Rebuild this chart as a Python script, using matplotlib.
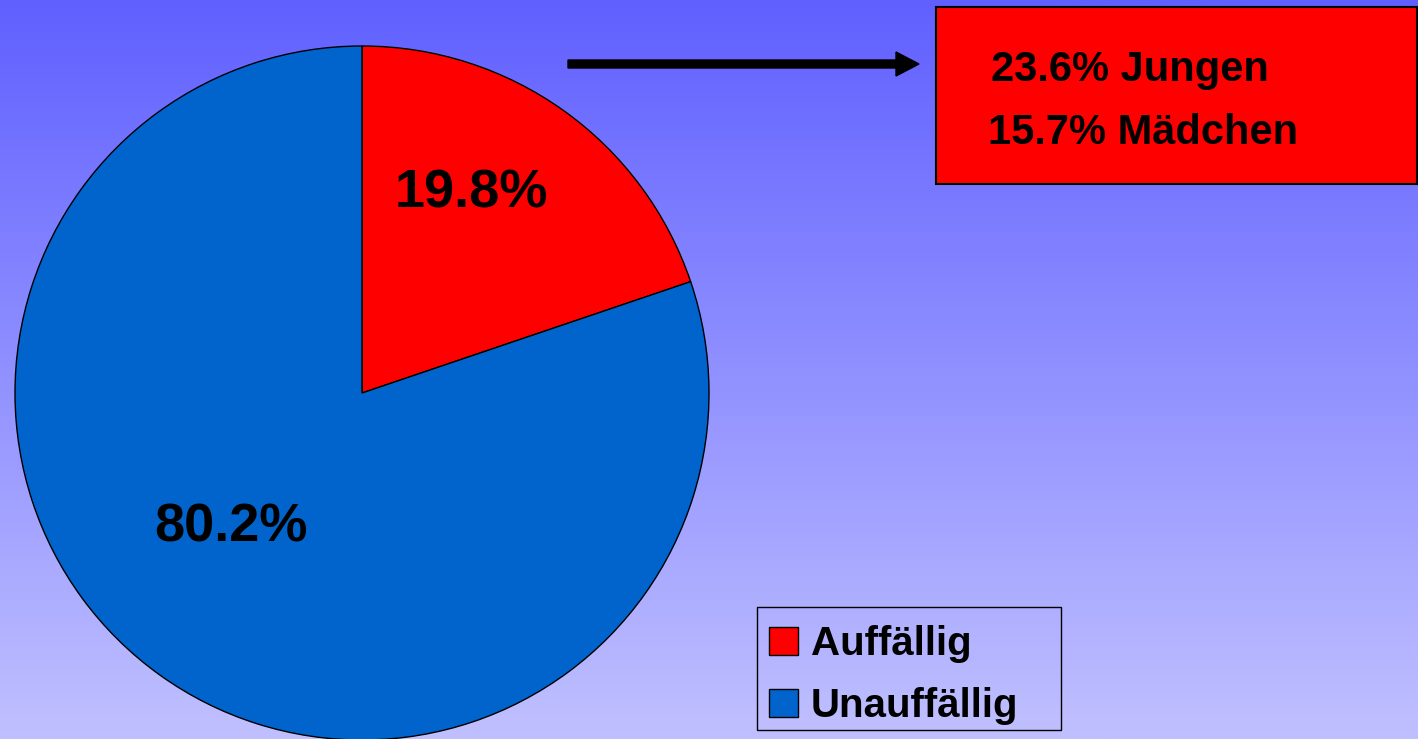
import numpy as np
import matplotlib
matplotlib.use("Agg")
import matplotlib.pyplot as plt
from matplotlib.patches import FancyArrow, Rectangle

# Data
categories = ["Auffällig", "Unauffällig"]
values = [19.8, 80.2]
pct_labels = ["19.8%", "80.2%"]
detail_lines = ["23.6% Jungen", "15.7% Mädchen"]
colors = ["#FF0000", "#0064CC"]

W, H = 1418, 739
fig = plt.figure(figsize=(W / 100, H / 100), dpi=100)
ax = fig.add_axes([0, 0, 1, 1])

# Background gradient
top = np.array([96, 96, 255]) / 255.0
bot = np.array([192, 192, 255]) / 255.0
t = np.linspace(0, 1, 256)[:, None]
grad = top[None, :] * (1 - t) + bot[None, :] * t
grad = np.repeat(grad[:, None, :], 2, axis=1)
ax.imshow(grad, extent=[0, W, 0, H], aspect="auto", zorder=0, origin="upper")

font = "Liberation Sans"

# Pie
cx, cy, r = 362, H - 393, 347
wedges, _ = ax.pie(values, colors=colors, startangle=90, counterclock=False,
                   center=(cx, cy), radius=r, frame=True,
                   wedgeprops=dict(edgecolor="black", linewidth=1.0))
ax.set_xlim(0, W)
ax.set_ylim(0, H)
ax.set_aspect("equal")
ax.axis("off")
for w in wedges:
    w.set_zorder(2)

ax.text(471, H - 208, pct_labels[0], fontsize=39, fontweight="bold",
        family=font, ha="center", va="baseline", zorder=3)
ax.text(231, H - 542, pct_labels[1], fontsize=39, fontweight="bold",
        family=font, ha="center", va="baseline", zorder=3)

# Arrow
ax.add_patch(FancyArrow(568, H - 64, 351, 0, width=8, head_width=24,
                        head_length=23, length_includes_head=True,
                        color="black", zorder=3))

# Detail box
ax.add_patch(Rectangle((936, H - 184), 481, 177, facecolor="#FF0000",
                       edgecolor="black", linewidth=1.5, zorder=3))
ax.text(991, H - 81, detail_lines[0], fontsize=30, fontweight="bold",
        family=font, ha="left", va="baseline", zorder=4)
ax.text(988, H - 144, detail_lines[1], fontsize=30, fontweight="bold",
        family=font, ha="left", va="baseline", zorder=4)

# Legend (drawn manually to match frame size)
ax.add_patch(Rectangle((757, H - 730), 304, 123, facecolor="none",
                       edgecolor="black", linewidth=1.0, zorder=5))
row_baselines = [655, 717]
for cat, col, yb in zip(categories, colors, row_baselines):
    ax.add_patch(Rectangle((769, H - yb), 29, 28, facecolor=col,
                           edgecolor="black", linewidth=1.0, zorder=5))
    ax.text(811, H - yb, cat, fontsize=29, fontweight="bold", family=font,
            ha="left", va="baseline", zorder=5)

fig.savefig("out.png", dpi=100)
